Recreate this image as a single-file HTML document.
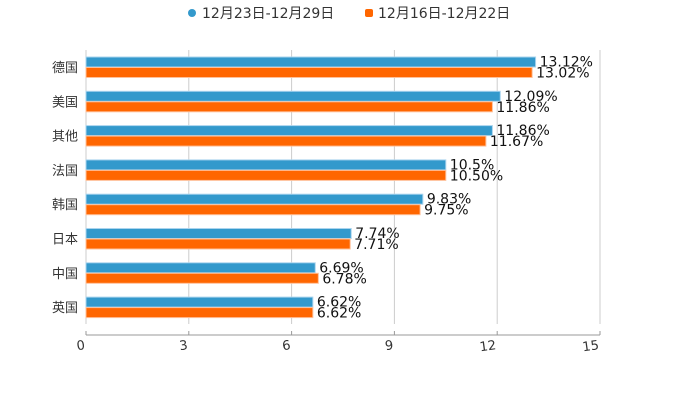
<!DOCTYPE html>
<html><head><meta charset="utf-8"><style>
body{margin:0;background:#fff;}
svg{display:block;font-family:"DejaVu Sans","Noto Sans CJK SC",sans-serif;}
</style></head><body>
<svg id="c" width="700" height="400">
<g>
 <g>
  <circle cx="192" cy="13" r="4" fill="#3399cc"/>
  <text x="202" y="18" font-size="14" fill="#333">12月23日-12月29日</text>
 </g>
 <g>
  <rect x="365" y="9" width="8" height="8" rx="2" fill="#ff6600"/>
  <text x="378" y="18" font-size="14" fill="#333">12月16日-12月22日</text>
 </g>
</g>
<g id="grid"></g>
<g id="bars"></g>
<g id="axis"></g>
</svg>
<script>
const categories=["德国","美国","其他","法国","韩国","日本","中国","英国"];
const seriesA=[13.12,12.09,11.86,10.5,9.83,7.74,6.69,6.62];
const labelsA=["13.12%","12.09%","11.86%","10.5%","9.83%","7.74%","6.69%","6.62%"];
const seriesB=[13.02,11.86,11.67,10.50,9.75,7.71,6.78,6.62];
const labelsB=["13.02%","11.86%","11.67%","10.50%","9.75%","7.71%","6.78%","6.62%"];
const ticks=[0,3,6,9,12,15];
const NS="http://www.w3.org/2000/svg";
const x0=86,x1=600,top0=50,rowH=34.3;
function xs(v){return x0+(x1-x0)*v/15;}
function yc(i){return 67+i*rowH;}
function mk(t,a,p){const e=document.createElementNS(NS,t);for(const k in a)e.setAttribute(k,a[k]);p.appendChild(e);return e;}
const grid=document.getElementById('grid'),bars=document.getElementById('bars'),axis=document.getElementById('axis');
ticks.forEach(t=>{
 const l=mk('line',{x1:xs(t),x2:xs(t),y1:top0,y2:324,stroke:'#ccc','stroke-width':1},grid);
 
 
 mk('line',{x1:xs(t),x2:xs(t),y1:331,y2:335,stroke:'#999'},axis);
 const tx=mk('text',{x:xs(t)-1,y:349,'font-size':13,fill:'#333','text-anchor':'end',transform:`rotate(-8 ${xs(t)} 346)`},axis);
 tx.textContent=t;
 
 
});
mk('line',{x1:x0,x2:x1,y1:335,y2:335,stroke:'#999'},axis);
categories.forEach((c,i)=>{
 const y=yc(i);
 const cl=mk('text',{x:78,y:y+5,'font-size':13,fill:'#333','text-anchor':'end'},bars);
 cl.textContent=c;
 
 
 const a=mk('rect',{x:x0,y:y-10,width:xs(seriesA[i])-x0,height:10,fill:'#3399cc',stroke:'#aad4ee','stroke-width':1},bars);
 
 
 const b=mk('rect',{x:x0,y:y+0.5,width:xs(seriesB[i])-x0,height:10,fill:'#ff6600',stroke:'#ffc099','stroke-width':1},bars);
 
 
 const ta=mk('text',{x:xs(seriesA[i])+4,y:y-0.5,'font-size':14,fill:'#111'},bars);
 ta.textContent=labelsA[i];
 
 
 const tb=mk('text',{x:xs(seriesB[i])+4,y:y+10.5,'font-size':14,fill:'#111'},bars);
 tb.textContent=labelsB[i];
 
 
});
</script>
</body></html>
